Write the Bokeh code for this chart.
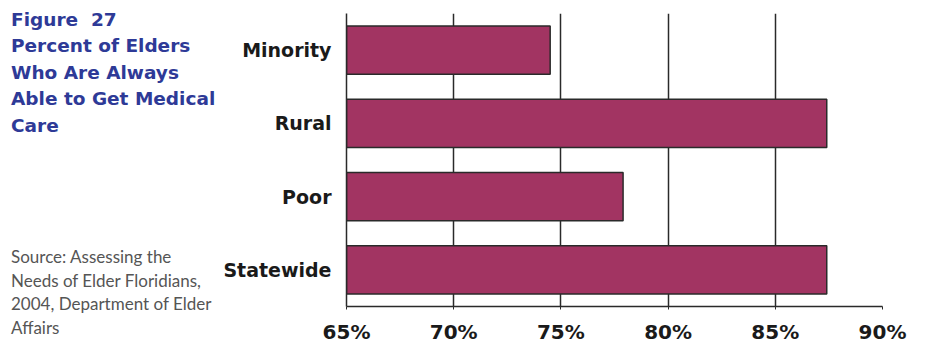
from bokeh.plotting import figure
from bokeh.layouts import row
from bokeh.models import Div, FixedTicker, PrintfTickFormatter, FactorRange, Range1d
from bokeh.embed import file_html
from bokeh.resources import INLINE

categories = ["Minority", "Rural", "Poor", "Statewide"]
values = [74.5, 87.4, 77.9, 87.4]
x_ticks = [65, 70, 75, 80, 85, 90]
title_lines = ["Figure  27", "Percent of Elders", "Who Are Always", "Able to Get Medical", "Care"]
source_lines = ["Source: Assessing the", "Needs of Elder Floridians,", "2004, Department of Elder", "Affairs"]

W, H = 926, 346
TEXT_W = 220
LEFT, RIGHT, TOP, BOTTOM = 346 - TEXT_W, 44, 13, 37

# text panel
title_html = "\n".join(title_lines)
source_html = "\n".join(source_lines)
html = (
    '<div style="margin:0; padding:6.75px 0 0 11px; font-family:\'DejaVu Sans\'; font-weight:bold; '
    'font-size:18.5px; line-height:26.5px; color:#2E3A97; white-space:pre;">' + title_html + '</div>'
    '<div style="margin:106px 0 0 11px; padding:0; font-family:Lato; font-weight:normal; '
    'font-size:17px; line-height:23.5px; color:#555555; white-space:pre;">' + source_html + '</div>'
)
t = Div(text=html, width=TEXT_W, height=H, margin=0)

# chart
p = figure(width=W - TEXT_W, height=H, title=None, output_backend="svg", toolbar_location=None,
           y_range=FactorRange(*categories[::-1]), x_range=Range1d(65, 90),
           min_border_left=LEFT, min_border_right=RIGHT, min_border_top=TOP, min_border_bottom=BOTTOM)
p.outline_line_color = None
p.background_fill_color = "white"
p.border_fill_color = "white"

p.hbar(y=categories, right=values, left=65, height=0.66,
       fill_color="#A23462", line_color="#2a2a2a", line_width=1.5)

p.xaxis.ticker = FixedTicker(ticks=x_ticks)
p.xaxis.formatter = PrintfTickFormatter(format="%d%%")
p.xaxis.major_label_text_font = "DejaVu Sans"
p.xaxis.major_label_text_font_style = "bold"
p.xaxis.major_label_text_font_size = "20px"
p.xaxis.major_label_text_line_height = 1.0
p.xaxis.major_label_text_color = "#1a1a1a"
p.xaxis.major_tick_in = 0
p.xaxis.major_tick_out = 3
p.xaxis.minor_tick_out = 0
p.xaxis.major_label_standoff = 10
p.xaxis.axis_line_color = "#2a2a2a"
p.xaxis.axis_line_width = 1.5
p.xaxis.major_tick_line_color = "#2a2a2a"

p.yaxis.major_label_text_font = "DejaVu Sans"
p.yaxis.major_label_text_font_style = "bold"
p.yaxis.major_label_text_font_size = "19px"
p.yaxis.major_label_text_color = "#1a1a1a"
p.yaxis.major_tick_line_color = None
p.yaxis.major_label_standoff = 9
p.yaxis.axis_line_color = "#2a2a2a"
p.yaxis.axis_line_width = 1.5

p.xgrid.ticker = FixedTicker(ticks=x_ticks[1:])
p.xgrid.grid_line_color = "#2a2a2a"
p.xgrid.grid_line_width = 1.5
p.ygrid.grid_line_color = None

layout = row(t, p, spacing=0)
open("out.html", "w").write(file_html(layout, INLINE))
